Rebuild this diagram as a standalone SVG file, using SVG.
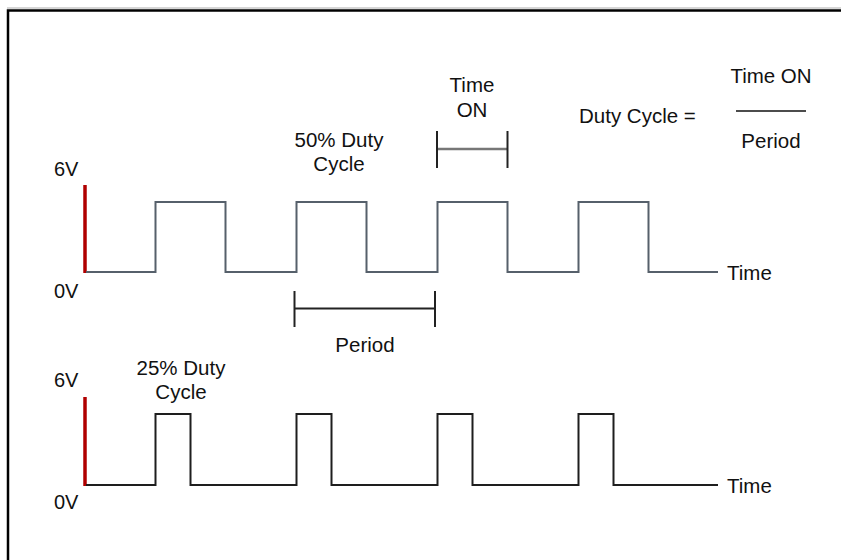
<svg xmlns="http://www.w3.org/2000/svg" width="841" height="560" viewBox="0 0 841 560">
<style>
text{font-family:"Liberation Sans",Arial,sans-serif;font-size:20.5px;fill:#111}
.v{font-size:20px}
.mid{text-anchor:middle}
.w1{fill:none;stroke:#56606b;stroke-width:2;stroke-linejoin:miter}
.w2{fill:none;stroke:#1e1e1e;stroke-width:2;stroke-linejoin:miter}
.red{stroke:#b00000;stroke-width:3.5}
.br{stroke:#222;stroke-width:2}
</style>
<rect width="841" height="560" fill="#fff"/>
<g id="frame">
<line x1="7" y1="8" x2="841" y2="8" stroke="#c8c8c8" stroke-width="1.5"/>
<path d="M8,560 V10.5 H841" fill="none" stroke="#000" stroke-width="2.5"/>
</g>
<g id="formula">
<text x="579" y="123">Duty Cycle =</text>
<text class="mid" x="771" y="83">Time ON</text>
<line x1="736" y1="111" x2="806" y2="111" stroke="#111" stroke-width="1.5"/>
<text class="mid" x="771" y="148">Period</text>
</g>
<g id="wave50">
<line class="red" x1="85" y1="185" x2="85" y2="273"/>
<path class="w1" d="M86,272 H155.5 V202 H225.5 V272 H296.5 V202 H366.5 V272 H437.5 V202 H507.5 V272 H578.5 V202 H648.5 V272 H718"/>
<text class="v" x="54" y="176">6V</text>
<text class="v" x="54" y="298">0V</text>
<text x="727" y="280">Time</text>
<text class="mid" x="339" y="147">50% Duty</text>
<text class="mid" x="339" y="171">Cycle</text>
</g>
<g id="timeon">
<text class="mid" x="472" y="92">Time</text>
<text class="mid" x="472" y="117">ON</text>
<line x1="437" y1="149" x2="507" y2="149" stroke="#777" stroke-width="2.5"/>
<line class="br" x1="437" y1="131" x2="437" y2="168"/>
<line class="br" x1="507.5" y1="131" x2="507.5" y2="168"/>
</g>
<g id="period">
<line class="br" x1="294.5" y1="308.5" x2="435" y2="308.5"/>
<line class="br" x1="294.5" y1="291" x2="294.5" y2="327"/>
<line class="br" x1="435" y1="291" x2="435" y2="327"/>
<text class="mid" x="365" y="352">Period</text>
</g>
<g id="wave25">
<line class="red" x1="85" y1="397" x2="85" y2="486"/>
<path class="w2" d="M86,485 H155.5 V414 H190.5 V485 H296.5 V414 H331.5 V485 H437.5 V414 H472.5 V485 H578.5 V414 H613.5 V485 H718"/>
<text class="v" x="54" y="387">6V</text>
<text class="v" x="54" y="509">0V</text>
<text x="727" y="493">Time</text>
<text class="mid" x="181" y="375">25% Duty</text>
<text class="mid" x="181" y="399">Cycle</text>
</g>
</svg>
